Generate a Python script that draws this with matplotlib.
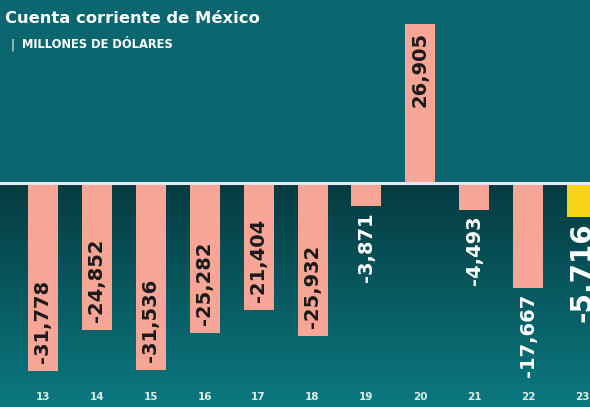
import numpy as np
import matplotlib.pyplot as plt
from matplotlib.colors import LinearSegmentedColormap

# datos
years = ["13", "14", "15", "16", "17", "18", "19", "20", "21", "22", "23"]
values = [-31778, -24852, -31536, -25282, -21404, -25932, -3871, 26905, -4493, -17667, -5716]
highlight = "23"

BG_TOP = "#0b6670"
DARK = "#053b40"
LIGHT = "#0b7880"
SALMON = "#f6a596"
YELLOW = "#f7d417"

fig = plt.figure(figsize=(5.9, 4.07), dpi=100)
fig.patch.set_facecolor(BG_TOP)
ax = fig.add_axes([0, 0, 1, 1])
ax.set_facecolor(BG_TOP)

step = 53.9
x0 = 43 / step
xmin, xmax = -x0, (590 / step) - x0
upp = 169.0
ymax = 183 * upp
ymin = -(407 - 183) * upp
ax.set_xlim(xmin, xmax)
ax.set_ylim(ymin, ymax)
ax.axis("off")

# degradado debajo de cero
cmap = LinearSegmentedColormap.from_list("g", [DARK, LIGHT])
grad = np.linspace(0, 1, 256).reshape(-1, 1)
ax.imshow(grad, cmap=cmap, aspect="auto", extent=[xmin, xmax, ymin, 0],
          origin="upper", zorder=0)

x = np.arange(len(years))
colors = [YELLOW if y == highlight else SALMON for y in years]
ax.bar(x, values, width=30 / step, color=colors, zorder=2)
ax.axhline(0, color="#ece4f0", lw=2.2, zorder=3)

pad = 8 * upp
for xi, v, yr in zip(x, values, years):
    lbl = f"{v:,}"
    if yr == highlight:
        ax.text(xi, v - 6 * upp, lbl, rotation=90, ha="center", va="top",
                color="white", fontsize=20, fontweight="bold", zorder=4)
    elif v > 0:
        ax.text(xi, v - pad, lbl, rotation=90, ha="center", va="top",
                color="#1a1a1a", fontsize=14, fontweight="bold", zorder=4)
    elif abs(v) > 20000:
        ax.text(xi, v + pad, lbl, rotation=90, ha="center", va="bottom",
                color="#1a1a1a", fontsize=14, fontweight="bold", zorder=4)
    else:
        ax.text(xi, v - 6 * upp, lbl, rotation=90, ha="center", va="top",
                color="white", fontsize=14, fontweight="bold", zorder=4)
    ax.text(xi, ymin + 10 * upp, yr, ha="center", va="center",
            color="#dfeee8", fontsize=7.5, fontweight="bold", zorder=4)

fig.text(0.008, 0.955, "Cuenta corriente de México", color="white",
         fontsize=11.8, fontweight="bold", va="center", ha="left")
fig.text(0.017, 0.89, "|", color="white", fontsize=8.5, va="center", ha="left")
fig.text(0.037, 0.89, "MILLONES DE DÓLARES", color="white",
         fontsize=8.3, fontweight="bold", va="center", ha="left")

fig.savefig("out.png", dpi=100, facecolor=BG_TOP)
